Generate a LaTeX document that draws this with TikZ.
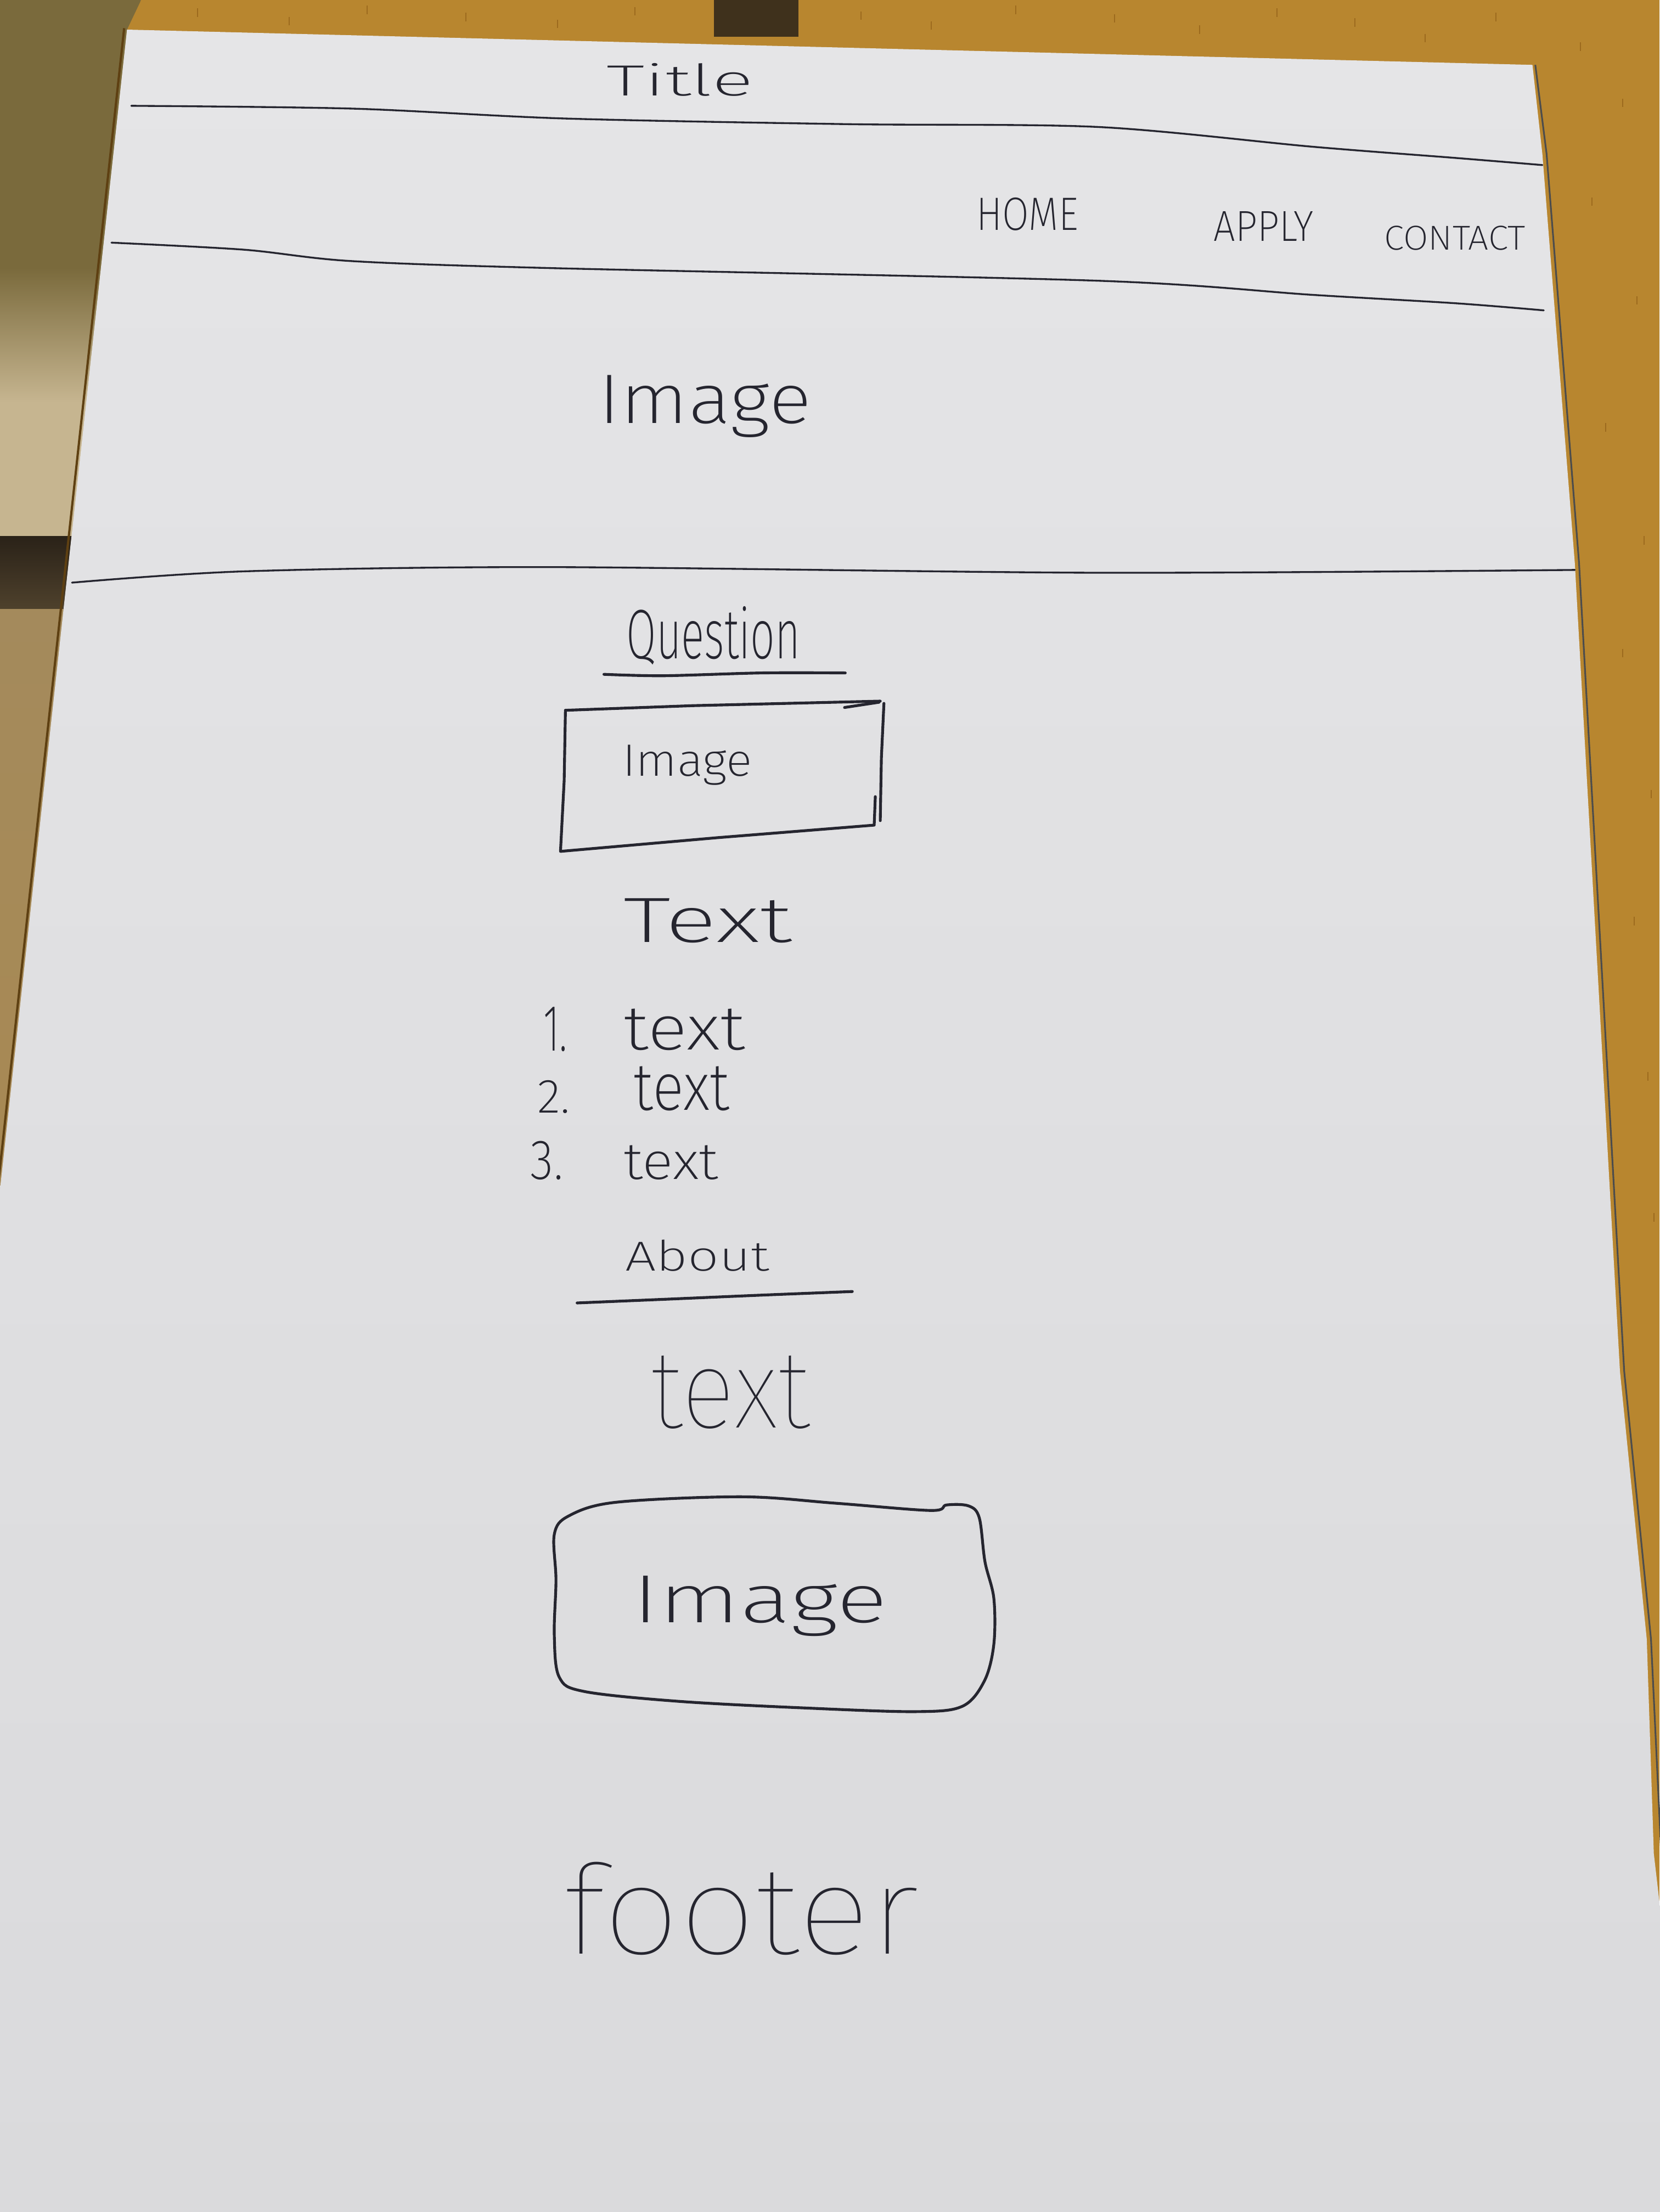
\documentclass[tikz,border=0pt]{standalone}
\usepackage{fontspec}
\usepackage{graphicx}
% light pen-like faces, with fallbacks
\IfFontExistsTF{FiraSans-ExtraLight.otf}
  {\newfontfamily\hand{FiraSans-ExtraLight.otf}}
  {\IfFontExistsTF{Fira Sans ExtraLight}
     {\newfontfamily\hand{Fira Sans ExtraLight}}
     {\newfontfamily\hand{Fira Sans}}}
\IfFontExistsTF{FiraSans-Thin.otf}
  {\newfontfamily\handthin{FiraSans-Thin.otf}}
  {\IfFontExistsTF{Fira Sans Thin}
     {\newfontfamily\handthin{Fira Sans Thin}}
     {\newfontfamily\handthin{Fira Sans}}}
% #1 width, #2 height above baseline (mm), #3 text
\newcommand{\hw}[3]{\resizebox{#1mm}{#2mm}{\hand #3}}
\newcommand{\hwthin}[3]{\resizebox{#1mm}{#2mm}{\handthin #3}}
\definecolor{wood}{HTML}{B8862F}
\definecolor{woodgrain}{HTML}{9C6A1E}
\definecolor{olive}{HTML}{7A6A3C}
\definecolor{khaki}{HTML}{C6B590}
\definecolor{shadowband}{HTML}{2A2218}
\definecolor{tan}{HTML}{A48A5C}
\definecolor{papertop}{HTML}{E5E5E7}
\definecolor{paperbot}{HTML}{DADADC}
\definecolor{inkc}{HTML}{25252F}
\tikzset{
  penline/.style={draw=inkc, line width=2mm, line cap=round, line join=round},
  rule/.style={draw=inkc, line width=1.3mm, line cap=round},
  handtext/.style={inner sep=0pt, outer sep=0pt, anchor=base west, text=inkc},
}
\begin{document}
\begin{tikzpicture}[x=1mm, y=-1mm]
\useasboundingbox (0,0) rectangle (1176,1568);

% table and surroundings
\fill[wood] (0,0) rectangle (1176,1568);
\begin{scope}
  \clip (0,0) -- (100,0) -- (90,21) -- (0,845) -- cycle;
  \fill[olive] (0,0) rectangle (100,190);
  \shade[top color=olive, bottom color=khaki] (0,190) rectangle (100,285);
  \fill[khaki] (0,285) rectangle (100,380);
  \shade[top color=shadowband, bottom color=shadowband!70!tan] (0,380) rectangle (100,432);
  \shade[top color=tan, bottom color=tan!80!wood] (0,432) rectangle (100,850);
\end{scope}
\fill[shadowband!85!wood] (506,0) rectangle (566,26);
% wood grain
\foreach \gx/\gy in {140/6,205/12,260/4,330/9,395/14,450/5,610/8,660/15,720/4,790/10,850/18,905/6,960/13,1010/24,1060/9,1120/30,1150/70,1128/140,1160/210,1138/300,1165/380,1150/460,1170/560,1158/650,1168/760,1172/860}
  \draw[woodgrain, line width=0.8mm] (\gx,\gy) -- ++(0,6);

% paper edges
\draw[draw=woodgrain!60!black, line width=1.6mm] (88,20) -- (-2,846);
\draw[draw=black!70, line width=1.2mm] (1088,46) -- (1096,109) -- (1119,399) -- (1151,972) -- (1170,1162) -- (1178,1330);

% the sheet
\shade[top color=papertop, bottom color=paperbot]
  (90,21) -- (1086,46) -- (1093,109) -- (1116,399) -- (1148,972) -- (1167,1162)
  -- (1172,1314) -- (1182,1400) -- (1182,1575) -- (-5,1575) -- (-5,850) -- (0,843) -- cycle;

% header rules
\draw[rule] plot[smooth, tension=0.5] coordinates {(93,75) (250,77) (400,84) (600,88) (778,90) (930,104) (1032,112) (1093,117)};
\draw[rule] plot[smooth, tension=0.5] coordinates {(79,172) (173,177) (248,185) (389,190) (778,199) (930,209) (1032,215) (1094,220)};
\draw[rule] plot[smooth, tension=0.5] coordinates {(51,413) (173,405) (389,402) (778,406) (1116,404)};

% header texts
\node[handtext] (title)   at (430,68)  {\hw{104}{23}{Title}};
\node[handtext] (home)    at (692,163) {\hw{72}{23}{HOME}};
\node[handtext] (apply)   at (860,171) {\hw{71}{21}{APPLY}};
\node[handtext] (contact) at (981,177) {\hw{100}{17}{CONTACT}};
\node[handtext] (hero)    at (424,300) {\hw{151}{34}{Image}};

% question section
\node[handtext] (question) at (444,467) {\hw{123}{37}{Question}};
\draw[penline] plot[smooth, tension=0.5] coordinates {(428,478) (470,479) (540,477) (599,477)};

\draw[penline] (400.7,503.5) -- (491,500.2) -- (623.8,497);
\draw[penline] (598.5,501.5) -- (622.9,497.8);
\draw[penline] (626.4,498.6) -- (624.6,537.3) -- (623.8,581.7);
\draw[penline] (620.3,564.7) -- (619.5,584.9) -- (508.3,593.8) -- (397.2,603.5) -- (399.8,553.4) -- (400.7,503.5);
\node[handtext] (qimage) at (441,550) {\hw{92}{22}{Image}};

\node[handtext] (textlabel) at (442,668) {\hw{119}{31}{Text}};

\node[handtext] (n1) at (385,745) {\hw{17}{31}{1.}};
\node[handtext] (t1) at (442,744) {\hw{86}{29}{text}};
\node[handtext] (n2) at (381,789) {\hw{23}{23}{2.}};
\node[handtext] (t2) at (449,787) {\hw{68}{31}{text}};
\node[handtext] (n3) at (376,836) {\hw{23}{27}{3.}};
\node[handtext] (t3) at (442,836) {\hw{67}{24}{text}};

% about section
\node[handtext] (about) at (443,901) {\hw{102}{22}{About}};
\draw[penline] plot[smooth, tension=0.5] coordinates {(409,923.6) (471,921) (541,918) (604,915.5)};
\node[handtext] (abouttext) at (461,1012) {\hwthin{113}{51}{text}};

\draw[penline] plot[smooth cycle, tension=0.55] coordinates {
  (392.8,1087.7) (403,1074.6) (436.4,1064.9) (525.7,1061) (592.7,1065.6) (659.6,1070.7)
  (670.8,1066.8) (686.5,1067.5) (694,1076) (698,1107) (704.3,1133) (704.3,1165.5)
  (697.7,1191.3) (682,1209.5) (648.6,1213.3) (570.4,1210.7) (481,1206) (414,1199)
  (396.3,1188.8) (392.8,1159) (394,1120)};
\node[handtext] (boximage) at (448,1150) {\hw{181}{33}{Image}};

% footer
\node[handtext] (footer) at (399,1385) {\hwthin{252}{65}{footer}};
\end{tikzpicture}
\end{document}
